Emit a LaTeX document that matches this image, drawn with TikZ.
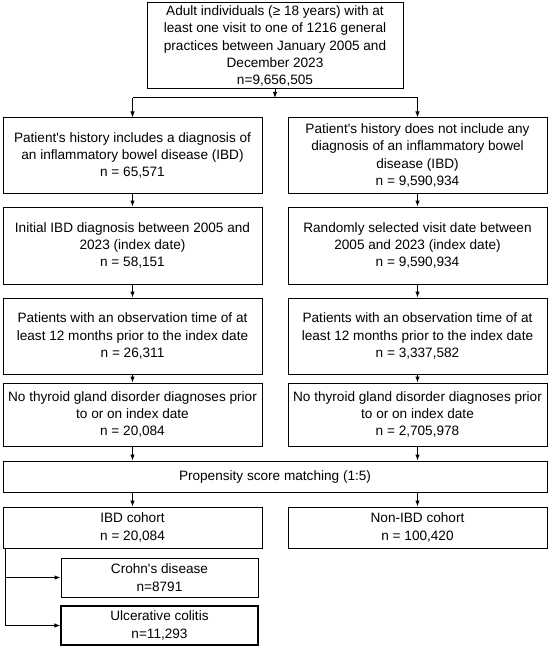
\documentclass[tikz,border=0pt]{standalone}
\usepackage{fontspec}
\setmainfont{Liberation Sans}
\usetikzlibrary{arrows.meta}
\newcommand{\apo}{\textquotesingle}
\begin{document}
\begin{tikzpicture}[x=1pt,y=-1pt,
  box/.style={draw, line width=1pt, align=center, font=\fontsize{13.6}{17.4}\selectfont, inner sep=0pt},
  arr/.style={-{Latex[length=6pt,width=4.5pt]}, line width=1pt},
  ln/.style={line width=1pt}]
\useasboundingbox[fill=white] (0,0) rectangle (550,650);
\node[box, minimum width=256pt, minimum height=86pt] (top) at (275,46)
  {Adult individuals (≥ 18 years) with at\\ least one visit to one of 1216 general\\ practices between January 2005 and\\ December 2023\\ n=9,656,505};
\node[box, minimum width=259pt, minimum height=75pt] (l1) at (132.5,155.5)
  {Patient\apo s history includes a diagnosis of\\ an inflammatory bowel disease (IBD)\\ n = 65,571};
\node[box, minimum width=259pt, minimum height=75pt] (r1) at (417.5,155.5)
  {Patient\apo s history does not include any\\ diagnosis of an inflammatory bowel\\ disease (IBD)\\ n = 9,590,934};
\node[box, minimum width=259pt, minimum height=77pt] (l2) at (132.5,245.5)
  {Initial IBD diagnosis between 2005 and\\ 2023 (index date)\\ n = 58,151};
\node[box, minimum width=259pt, minimum height=77pt] (r2) at (417.5,245.5)
  {Randomly selected visit date between\\ 2005 and 2023 (index date)\\ n = 9,590,934};
\node[box, minimum width=259pt, minimum height=76pt] (l3) at (132.5,336)
  {Patients with an observation time of at\\ least 12 months prior to the index date\\ n = 26,311};
\node[box, minimum width=259pt, minimum height=76pt] (r3) at (417.5,336)
  {Patients with an observation time of at\\ least 12 months prior to the index date\\ n = 3,337,582};
\node[box, minimum width=259pt, minimum height=63pt] (l4) at (132.5,414.5)
  {No thyroid gland disorder diagnoses prior\\ to or on index date\\ n = 20,084};
\node[box, minimum width=259pt, minimum height=63pt] (r4) at (417.5,414.5)
  {No thyroid gland disorder diagnoses prior\\ to or on index date\\ n = 2,705,978};
\node[box, minimum width=544pt, minimum height=31pt] (psm) at (275,476.5)
  {Propensity score matching (1:5)};
\node[box, minimum width=259pt, minimum height=41pt] (l5) at (132.5,527.5)
  {IBD cohort\\ n = 20,084};
\node[box, minimum width=259pt, minimum height=41pt] (r5) at (417.5,527.5)
  {Non-IBD cohort\\ n = 100,420};
\node[box, minimum width=197pt, minimum height=39pt] (cd) at (159.5,577.5)
  {Crohn\apo s disease\\ n=8791};
\node[box, minimum width=197pt, minimum height=39pt, line width=1.15pt] (uc) at (159.5,625.5)
  {Ulcerative colitis\\ n=11,293};
\coordinate (hl) at (132.5,98);
\coordinate (hm) at (275,98);
\coordinate (hr) at (417.5,98);
\coordinate (bk) at (5,548);
\draw[ln] (hl) -- (hr);
\draw[arr] (top.south) -- (hm);
\draw[arr] (hl) -- (l1.north);
\draw[arr] (hr) -- (r1.north);
\draw[arr] (l1) -- (l2);
\draw[arr] (r1) -- (r2);
\draw[arr] (l2) -- (l3);
\draw[arr] (r2) -- (r3);
\draw[arr] (l3) -- (l4);
\draw[arr] (r3) -- (r4);
\draw[arr] (l4.south) -- (psm.north -| l4.south);
\draw[arr] (r4.south) -- (psm.north -| r4.south);
\draw[arr] (psm.south -| l5.north) -- (l5.north);
\draw[arr] (psm.south -| r5.north) -- (r5.north);
\draw[arr] (bk) |- (cd.west);
\draw[arr] (bk) |- (uc.west);
\end{tikzpicture}
\end{document}
